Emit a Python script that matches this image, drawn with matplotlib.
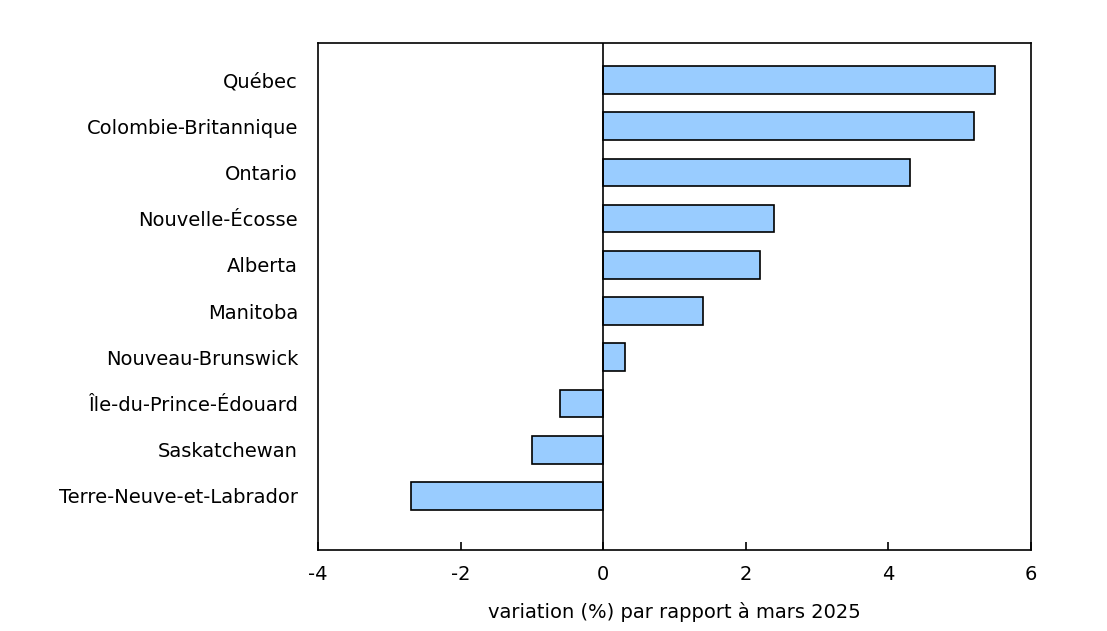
import numpy as np
import matplotlib.pyplot as plt

# provinces, de haut en bas
provinces = ["Québec", "Colombie-Britannique", "Ontario", "Nouvelle-Écosse",
             "Alberta", "Manitoba", "Nouveau-Brunswick",
             "Île-du-Prince-Édouard", "Saskatchewan",
             "Terre-Neuve-et-Labrador"]
variation = [5.5, 5.2, 4.3, 2.4, 2.2, 1.4, 0.3, -0.6, -1.0, -2.7]
xticks = [-4, -2, 0, 2, 4, 6]

plt.rcParams['font.family'] = ['DejaVu Sans']

fig = plt.figure(figsize=(11.07, 6.31), dpi=100)
ax = fig.add_axes([318 / 1107, 1 - 550 / 631, 713 / 1107, 507 / 631])

y = np.arange(len(provinces))
ax.barh(y, variation, height=0.6, color="#99CCFF", edgecolor="black", linewidth=1.2)
ax.axvline(0, color="black", linewidth=1.2)

ax.set_xlim(-4, 6)
ax.set_ylim(len(provinces) - 1 + 1.17, -0.8)
ax.set_xticks(xticks)
ax.set_xticklabels([str(t) for t in xticks])
ax.set_yticks(y)
ax.set_yticklabels(provinces)
ax.tick_params(axis="y", length=0, pad=14.4, labelsize=14)
ax.tick_params(axis="x", direction="in", length=6, width=1.2, pad=11, labelsize=14)
ax.set_xlabel("variation (%) par rapport à mars 2025", fontsize=14, labelpad=13)

for s in ax.spines.values():
    s.set_linewidth(1.2)

fig.savefig("out.png", dpi=100)
